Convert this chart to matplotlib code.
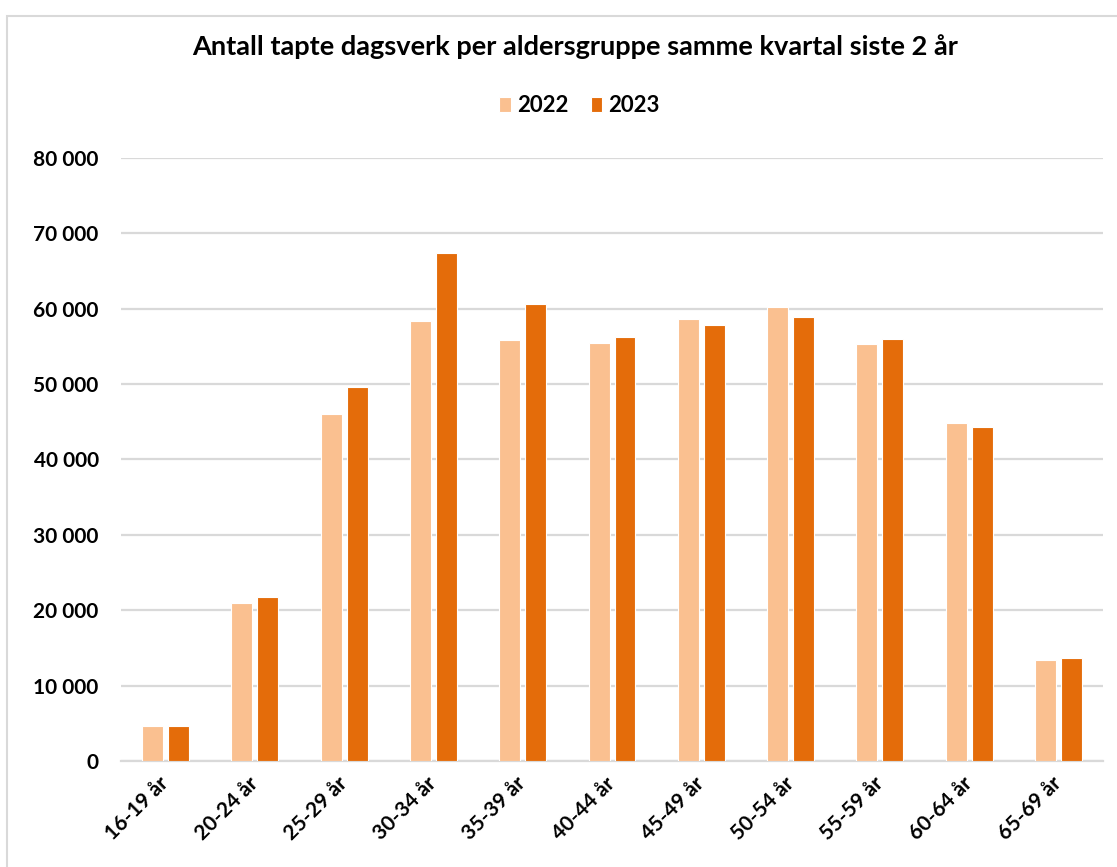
import numpy as np
import matplotlib
matplotlib.use("Agg")
import matplotlib.pyplot as plt
from matplotlib.ticker import FuncFormatter
from matplotlib.patches import Rectangle

plt.rcParams["font.family"] = ["Lato", "DejaVu Sans"]

# data
aldersgrupper = ["16-19 år", "20-24 år", "25-29 år", "30-34 år", "35-39 år", "40-44 år",
                 "45-49 år", "50-54 år", "55-59 år", "60-64 år", "65-69 år"]
verdier_2022 = [4700, 21000, 46000, 58400, 55800, 55500, 58700, 60200, 55300, 44800, 13400]
verdier_2023 = [4700, 21700, 49600, 67400, 60600, 56200, 57900, 58900, 56000, 44300, 13700]
serier = ["2022", "2023"]
y_ticks = list(range(0, 80001, 10000))

farge_2022 = "#FAC090"
farge_2023 = "#E46C0A"

fig = plt.figure(figsize=(11.17, 8.67), dpi=100)
ax = fig.add_axes([0.1083, 0.1223, 0.8792, 0.6955])

x = np.arange(len(aldersgrupper))
bredde = 0.235
avstand = 0.056
ax.bar(x - (bredde + avstand) / 2, verdier_2022, bredde, color=farge_2022,
       edgecolor="white", linewidth=0.8, label=serier[0], zorder=3)
ax.bar(x + (bredde + avstand) / 2, verdier_2023, bredde, color=farge_2023,
       edgecolor="white", linewidth=0.8, label=serier[1], zorder=3)

ax.set_xlim(-0.5, len(aldersgrupper) - 0.5)
ax.set_ylim(0, 80000)
ax.set_yticks(y_ticks)
ax.yaxis.set_major_formatter(FuncFormatter(lambda v, p: f"{int(v):,}".replace(",", " ")))
ax.grid(axis="y", color="#D9D9D9", linewidth=1.6, zorder=0)
for s in ["top", "right", "left"]:
    ax.spines[s].set_visible(False)
ax.spines["bottom"].set_color("#D9D9D9")
ax.spines["bottom"].set_linewidth(1.6)
ax.tick_params(axis="both", length=0)
ax.tick_params(axis="y", pad=16, labelsize=15)

ax.set_xticks(x)
ax.set_xticklabels(aldersgrupper, rotation=45, ha="right", va="center",
                   rotation_mode="anchor", fontsize=15, fontweight="bold")
ax.tick_params(axis="x", pad=14)
for t in ax.get_yticklabels():
    t.set_fontweight("bold")

fig.text(0.515, 0.946, "Antall tapte dagsverk per aldersgruppe samme kvartal siste 2 år",
         ha="center", va="center", fontsize=19.5, fontweight="bold")
leg = fig.legend(loc="center", bbox_to_anchor=(0.519, 0.878), ncol=2, frameon=False,
                 prop={"weight": "bold", "size": 16}, handlelength=0.5, handleheight=0.7,
                 handletextpad=0.3, columnspacing=1.0)

fig.patches.append(Rectangle((0.006, -0.01), 1.1, 1.0005 - 0.009, transform=fig.transFigure,
                             fill=False, edgecolor="#D9D9D9", linewidth=1.5))

fig.savefig("out.png", dpi=100)
